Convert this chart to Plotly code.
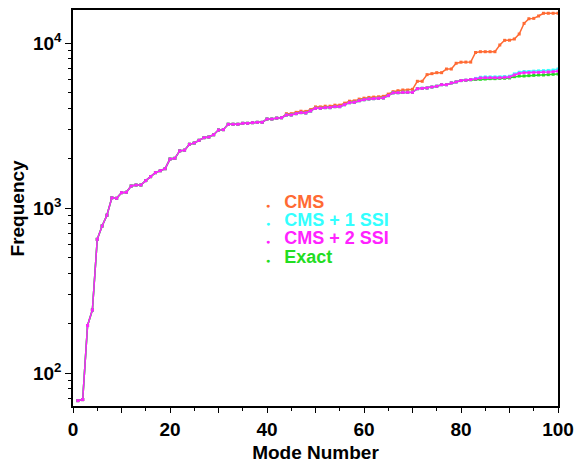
import plotly.graph_objects as go

modes = list(range(1, 101))

cms2_ssi = [68, 69, 194, 241, 646, 778, 904, 1153, 1145, 1239,
            1245, 1359, 1378, 1378, 1466, 1549, 1638, 1683, 1731, 1980,
            2000, 2220, 2240, 2433, 2477, 2572, 2668, 2692, 2780, 2970,
            2985, 3217, 3217, 3217, 3260, 3260, 3290, 3305, 3305, 3461,
            3461, 3505, 3525, 3662, 3662, 3731, 3785, 3767, 3872, 4020,
            4020, 4058, 4058, 4115, 4115, 4229, 4348, 4371, 4470, 4533,
            4579, 4600, 4620, 4645, 4800, 4990, 5000, 5025, 5025, 5025,
            5285, 5310, 5335, 5410, 5470, 5590, 5590, 5730, 5810, 5920,
            5950, 6000, 6060, 6140, 6165, 6165, 6165, 6165, 6195, 6220,
            6400, 6550, 6610, 6610, 6640, 6640, 6670, 6670, 6700, 6765]

cms1_ssi = [68, 69, 194, 241, 646, 778, 904, 1153, 1145, 1239,
            1245, 1359, 1378, 1378, 1466, 1549, 1638, 1683, 1731, 1980,
            2000, 2220, 2240, 2433, 2477, 2572, 2668, 2692, 2780, 2970,
            2985, 3217, 3217, 3217, 3260, 3260, 3290, 3305, 3305, 3461,
            3461, 3505, 3525, 3662, 3662, 3731, 3785, 3767, 3872, 4020,
            4020, 4058, 4058, 4115, 4115, 4229, 4348, 4371, 4470, 4533,
            4579, 4600, 4620, 4645, 4800, 4990, 5000, 5025, 5025, 5025,
            5285, 5310, 5335, 5410, 5470, 5590, 5590, 5730, 5810, 5920,
            5950, 6000, 6100, 6200, 6230, 6230, 6230, 6230, 6260, 6290,
            6500, 6650, 6720, 6720, 6750, 6780, 6800, 6820, 6860, 6950]

cms = [68, 69, 194, 241, 646, 778, 904, 1153, 1145, 1239,
       1245, 1359, 1378, 1378, 1466, 1549, 1638, 1683, 1731, 1980,
       2000, 2220, 2240, 2433, 2477, 2572, 2668, 2692, 2780, 2970,
       2985, 3217, 3217, 3217, 3260, 3260, 3290, 3305, 3305, 3461,
       3461, 3505, 3525, 3730, 3730, 3800, 3860, 3850, 3950, 4100,
       4100, 4140, 4140, 4200, 4200, 4320, 4440, 4460, 4570, 4630,
       4680, 4700, 4720, 4750, 4900, 5070, 5140, 5190, 5190, 5237,
       5860, 5860, 6430, 6520, 6610, 6610, 6955, 6955, 7535, 7650,
       7660, 7660, 8760, 8855, 8855, 8855, 8855, 9725, 10380, 10400,
       10575, 11340, 13150, 14030, 14100, 14580, 15140, 15140, 15140, 15140]

exact = [68, 69, 194, 241, 646, 778, 904, 1153, 1145, 1239,
         1245, 1359, 1378, 1378, 1466, 1549, 1638, 1683, 1731, 1980,
         2000, 2220, 2240, 2433, 2477, 2572, 2668, 2692, 2780, 2970,
         2985, 3217, 3217, 3217, 3260, 3260, 3290, 3305, 3305, 3461,
         3461, 3505, 3525, 3662, 3662, 3731, 3785, 3767, 3872, 4020,
         4020, 4058, 4058, 4115, 4115, 4229, 4348, 4371, 4470, 4533,
         4579, 4600, 4620, 4645, 4800, 4990, 5000, 5025, 5025, 5025,
         5285, 5310, 5335, 5410, 5470, 5590, 5590, 5730, 5810, 5920,
         5940, 5990, 6010, 6030, 6050, 6080, 6080, 6110, 6110, 6140,
         6250, 6310, 6310, 6340, 6370, 6400, 6400, 6430, 6460, 6490]

series = [
    ("CMS", cms, "#ff6a33"),
    ("CMS + 1 SSI", cms1_ssi, "#33ffff"),
    ("Exact", exact, "#22dd22"),
    ("CMS + 2 SSI", cms2_ssi, "#ff22ff"),
]
legend_order = ["CMS", "CMS + 1 SSI", "CMS + 2 SSI", "Exact"]

x_tickvals = [0, 10, 20, 30, 40, 50, 60, 70, 80, 90, 100]
x_ticktext = ["0", "", "20", "", "40", "", "60", "", "80", "", "100"]
y_tickvals = [100, 1000, 10000]
y_ticktext = ["10<sup>2</sup>", "10<sup>3</sup>", "10<sup>4</sup>"]
y_minor = [k * 10 ** e for e in (1, 2, 3, 4) for k in range(2, 10)]

fig = go.Figure()
for name, vals, col in series:
    fig.add_trace(go.Scatter(
        x=modes, y=vals, mode="lines+markers", name=name,
        line=dict(color=col, width=1.5),
        marker=dict(color=col, size=3, symbol="square"),
        showlegend=False))

colors = {n: c for n, _, c in series}
# legend drawn as coloured text, one line per series
leg_x0 = (264 - 73.5) / 484.5
leg_y0 = 1 - (202 - 10) / 396
leg_dy = 18.2 / 396
for i, name in enumerate(legend_order):
    col = colors[name]
    fig.add_annotation(
        xref="paper", yref="paper", x=leg_x0, y=leg_y0 - i * leg_dy,
        xanchor="left", yanchor="middle", showarrow=False,
        text=(f'<span style="color:{col};font-size:7px">\u25CF</span>'
              f'<span style="color:{col}">\u2002 {name}</span>'),
        font=dict(size=18, weight="bold", color=col))

# y-axis title placed like the reference
fig.add_annotation(
    xref="paper", yref="paper", x=-(73.5 - 18) / 484.5, y=0.5,
    xanchor="center", yanchor="middle", showarrow=False, textangle=-90,
    text="Frequency", font=dict(size=19, weight="bold", color="black"))

font_family = "Liberation Sans, Arial, sans-serif"
fig.update_layout(
    width=579, height=463,
    margin=dict(l=73, r=21, t=10, b=57),
    paper_bgcolor="white", plot_bgcolor="white",
    font=dict(family=font_family, size=19, color="black", weight="bold"),
    showlegend=False,
    xaxis=dict(range=[0, 100], showline=True, linecolor="black", linewidth=1.5,
               mirror=True, ticks="outside", ticklen=5, tickwidth=1.2,
               tickcolor="black", tickvals=x_tickvals, ticktext=x_ticktext,
               showgrid=False, zeroline=False, automargin=False,
               tickfont=dict(size=19),
               minor=dict(dtick=5, ticks="outside", ticklen=3, tickwidth=1,
                          tickcolor="black", showgrid=False),
               title=dict(text="Mode Number", font=dict(size=19, weight="bold"))),
    yaxis=dict(type="log", range=[1.8, 4.2], showline=True, linecolor="black",
               linewidth=1.5, mirror=True, ticks="outside", ticklen=6,
               tickwidth=1.2, tickcolor="black", tickvals=y_tickvals,
               ticktext=y_ticktext, showgrid=False, zeroline=False,
               automargin=False, tickfont=dict(size=19),
               minor=dict(tickmode="array", tickvals=y_minor, ticks="outside",
                          ticklen=3, tickwidth=1, tickcolor="black",
                          showgrid=False)),
)

fig.write_html("out.html", config={"displayModeBar": False},
               post_script="document.body.style.margin='0px';")
